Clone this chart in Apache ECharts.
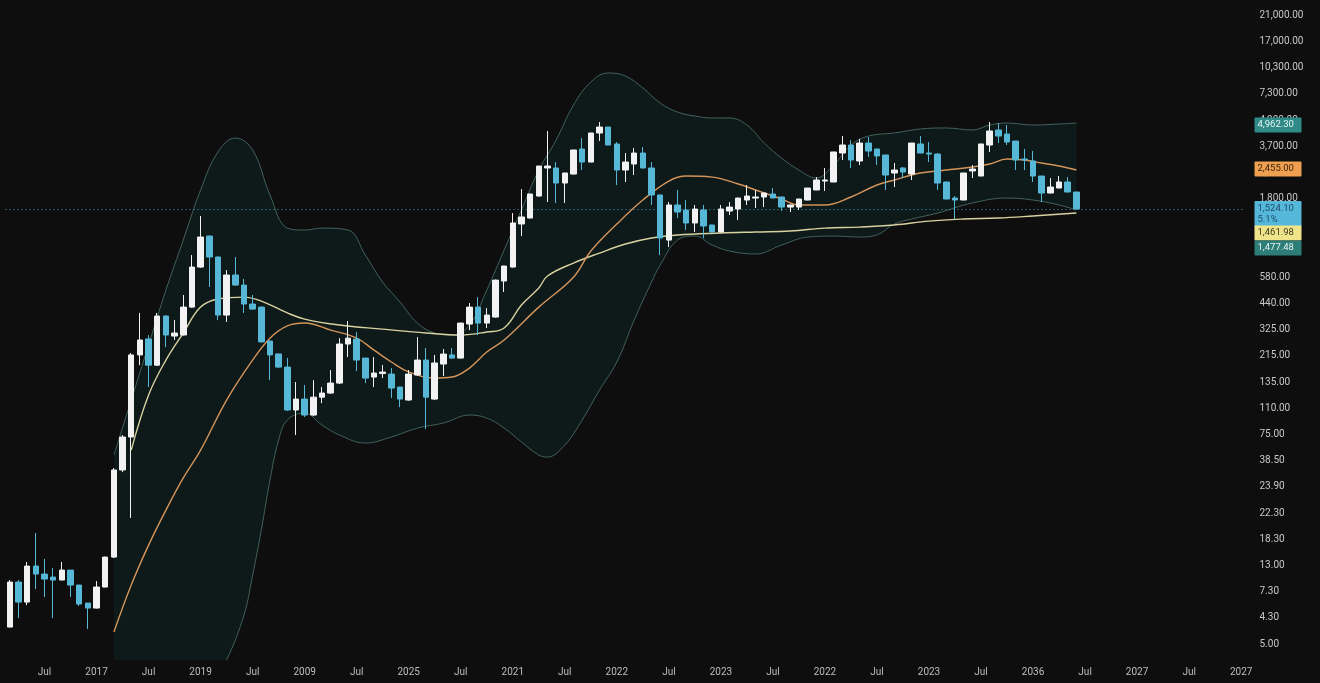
<!DOCTYPE html>
<html>
<head>
<meta charset="utf-8">
<title>Monthly candles</title>
<script src="https://cdn.jsdelivr.net/npm/echarts@6/dist/echarts.min.js"></script>
<style>
  html, body { margin: 0; padding: 0; background: #0e0e0e; }
  #chart { width: 1320px; height: 683px; }
</style>
</head>
<body>
<div id="chart"></div>
<script>
// monthly categories, Mar 2016 .. Jan 2028
const months = [];
for (let y = 2016, m = 3; months.length < 143; m++) {
  if (m > 12) { m = 1; y++; }
  months.push(y + '-' + String(m).padStart(2, '0'));
}

// x labels, one every 6 months starting Jul 2016 (text as printed)
const xTickLabels = ['Jul', '2017', 'Jul', '2019', 'Jul', '2009', 'Jul', '2025', 'Jul', '2021', 'Jul', '2022',
  'Jul', '2023', 'Jul', '2022', 'Jul', '2023', 'Jul', '2036', 'Jul', '2027', 'Jul', '2027'];

// y tick values (log scale, sqrt2 steps) and the text printed at them, bottom to top
const yTickValues = [5, 7.07, 10, 14.14, 20, 28.28, 40, 56.57, 80, 113.1, 160, 226.3, 320, 452.5, 640, 905,
  1280, 1810, 2560, 3620, 5120, 7241, 10240, 14482, 20480];
const yTickLabels = ['5.00', '4.30', '7.30', '13.00', '18.30', '22.30', '23.90', '38.50', '75.00', '110.00',
  '135.00', '215.00', '325.00', '440.00', '580.00', '900.00', '1,300.00', '1,800.00', '2,600.00', '3,700.00',
  '4,900.00', '7,300.00', '10,300.00', '17,000.00', '21,000.00'];

// [open, close, low, high]
const candles = [
  [6.26, 11.35, 6.26, 11.66], [11.35, 8.71, 7.05, 11.66], [8.71, 14.03, 8.37, 14.8], [14.03, 12.62, 10.35, 21.7],
  [12.62, 11.81, 9.31, 15.4], [12.13, 11.66, 7.05, 13.66], [11.66, 13.3, 11.66, 14.8], [13.3, 10.91, 9.31, 13.3],
  [10.91, 8.49, 8.27, 10.95], [8.6, 8.05, 6.1, 8.6], [8.05, 10.63, 8.0, 11.5], [10.63, 15.8, 10.6, 15.9],
  [15.8, 50, 15.6, 51.3], [50, 77.3, 48.6, 79.4], [77.3, 229, 26.5, 235], [229, 279, 200, 399],
  [283, 200, 150, 298], [200, 383, 198, 399], [383, 298, 254, 388], [294, 306, 279, 363],
  [298, 431, 296, 506], [431, 732, 428, 858], [732, 1089, 725, 1439], [1103, 836, 562, 1110],
  [836, 388, 363, 840], [388, 659, 354, 704], [659, 577, 570, 836], [577, 449, 399, 625],
  [449, 420, 415, 506], [431, 272, 270, 435], [275, 229, 164, 277], [232, 195, 193, 233],
  [195, 110.5, 109, 220], [110.5, 127.7, 79.4, 160], [127.7, 103.4, 100.7, 153.7], [103.4, 131, 102, 164],
  [131, 138.3, 121, 149.7], [138.3, 157.8, 137, 187.5], [157.8, 264.5, 156, 286], [264.5, 286, 222.7, 358.7],
  [282.6, 214, 185, 310], [219.7, 168.6, 157.8, 220], [170.9, 180.2, 149.7, 222.7], [179, 182.6, 168.6, 200.3],
  [177.8, 147.7, 129.4, 192.5], [149.7, 127.7, 114.9, 150], [126.1, 177.8, 125, 187.5], [175.5, 214, 174, 290],
  [214, 131, 85.9, 251], [127.7, 205.8, 126, 229], [203, 231.7, 173.1, 247.6], [229, 219.7, 218, 251],
  [219.7, 349, 218, 350], [344.6, 431, 318, 455], [431, 349, 298, 492], [349, 388, 326.7, 425.6],
  [378, 616, 375, 620], [608.6, 742, 526, 745], [732, 1311, 728, 1496], [1294, 1420, 1103, 2054],
  [1400, 1924, 1395, 1930], [1873, 2785, 1860, 2790], [2714, 2785, 1731, 4427], [2714, 2225, 1708, 2936],
  [2225, 2540, 1708, 2545], [2505, 3444, 2490, 3450], [3488, 2936, 2642, 4036], [2936, 4311, 2930, 4320],
  [4311, 4666, 3877, 4985], [4666, 3678, 3670, 4670], [3729, 2642, 2167, 3826], [2642, 2936, 2255, 3308],
  [2862, 3308, 2472, 3535], [3308, 2714, 2700, 3582], [2714, 1899, 1664, 2936], [1899, 1075, 858, 1905],
  [1046, 1664, 954, 1731], [1664, 1516, 1400, 2029], [1557, 1311, 1195, 1777], [1311, 1577, 1164, 1664],
  [1557, 1260, 1075, 1664], [1277, 1164, 1160, 1280], [1164, 1577, 1160, 1664], [1536, 1619, 1457, 1731],
  [1577, 1824, 1364, 1830], [1777, 1873, 1664, 2167], [1824, 1849, 1599, 2029], [1849, 1949, 1619, 1955],
  [1924, 1824, 1820, 2082], [1849, 1619, 1536, 1855], [1619, 1664, 1516, 1670], [1619, 1801, 1557, 1805],
  [1777, 2082, 1770, 2085], [2029, 2315, 2025, 2407], [2284, 2315, 2002, 2714], [2255, 3354, 2250, 3360],
  [3308, 3678, 3016, 4141], [3678, 3016, 2714, 3928], [2977, 3776, 2824, 3982], [3776, 3397, 3139, 4087],
  [3488, 3182, 2824, 3495], [3223, 2472, 2029, 3230], [2540, 2642, 2110, 2900], [2714, 2574, 2377, 2749],
  [2505, 3776, 2315, 3780], [3729, 3308, 3300, 4141], [3308, 3264, 2936, 3826], [3264, 2225, 2029, 3310],
  [2255, 1801, 1795, 2260], [1824, 1777, 1382, 1873], [1777, 2540, 1770, 2545], [2609, 2678, 2377, 2824],
  [2440, 3729, 2435, 3735], [3678, 4427, 3354, 4985], [4485, 4141, 3776, 4920], [4254, 3826, 3678, 4793],
  [3877, 3016, 2642, 3880], [3057, 3016, 2642, 3488], [2977, 2440, 2255, 3397], [2440, 1949, 1731, 2445],
  [1949, 2110, 1945, 2377], [2082, 2255, 2078, 2440], [2255, 1975, 1970, 2407], [1975, 1577, 1570, 1980]
];

// indicator lines: [month index, value]
const bandUpper = [[12, 60.9], [14, 126], [16, 261], [18, 540], [20, 1046], [22, 2029], [24, 3354], [26, 4036],
  [28, 3444], [30, 1899], [32, 1226], [34, 1195], [36, 1226], [39, 1195], [41, 858], [43, 600], [45, 461],
  [47, 349], [49, 306], [51, 298], [53, 340], [55, 540], [57, 917], [59, 1557], [61, 2642], [63, 3928],
  [65, 6241], [67, 8464], [69, 9535], [71, 9159], [73, 7819], [75, 6410], [77, 5688], [79, 5396], [81, 5258],
  [83, 5258], [85, 4793], [87, 3776], [89, 3098], [91, 2642], [93, 2377], [95, 2824], [97, 3678], [99, 4141],
  [102, 4311], [105, 4548], [108, 4608], [111, 4485], [113, 4793], [115, 4920], [118, 4793], [121, 4856],
  [123, 4920]];
const bandLower = [[12, 1.08], [16, 1.41], [20, 1.95], [23, 2.72], [25, 4.05], [27, 7.34], [28, 12.46],
  [29, 22.6], [30, 43.8], [31, 74.3], [32, 96.8], [34, 106.2], [36, 90.6], [38, 79.4], [41, 71.4], [44, 77.3],
  [47, 87], [50, 93], [53, 103.4], [55, 99.4], [57, 87], [59, 72.4], [61, 60.9], [62, 59.3], [64, 69.5],
  [66, 96.8], [68, 143.9], [70, 208.5], [72, 363], [74, 600], [75, 752], [77, 1046], [79, 1103], [81, 979],
  [83, 905], [86, 870], [89, 979], [92, 1089], [95, 1103], [98, 1089], [100, 1119], [102, 1294], [104, 1382],
  [107, 1496], [111, 1708], [115, 1824], [118, 1777], [121, 1664], [123, 1557]];
const slowLine = [[14, 65], [16, 134.7], [18, 214], [20, 306], [22, 431], [24, 480], [27, 492], [29, 467],
  [32, 399], [34, 368], [38, 340], [43, 322], [48, 306], [52, 298], [55, 310], [57, 327], [59, 443], [61, 555],
  [62, 650], [65, 772], [68, 881], [71, 993], [74, 1075], [77, 1119], [82, 1148], [86, 1164], [90, 1179],
  [94, 1226], [98, 1242], [102, 1277], [106, 1345], [110, 1382], [114, 1400], [118, 1439], [123, 1496]];
const fastLine = [[12, 5.86], [14, 10.91], [16, 18.5], [18, 29.4], [20, 45], [22, 65], [25, 126.1], [28, 214],
  [30, 286], [32, 336], [34, 349], [37, 318], [40, 286], [42, 244], [44, 208.5], [46, 183], [49, 168.6],
  [51, 170.9], [53, 192.5], [55, 238], [57, 279], [61, 431], [65, 640], [67, 905], [70, 1294], [73, 1777],
  [76, 2284], [78, 2440], [81, 2407], [84, 2196], [86, 2029], [89, 1801], [91, 1664], [94, 1664], [97, 1849],
  [100, 2167], [102, 2315], [105, 2540], [108, 2642], [111, 2749], [113, 2862], [115, 3057], [117, 3016],
  [119, 2900], [121, 2785], [123, 2642]];

// price tags on the right: level and printed text
const tagLevels = [4793, 2678, 1148, 941];
const tagTexts = ['4,962.30', '2,455.00', '1,461.98', '1,477.48'];
const lastTag = '1,524.10\n5.1%';

const BG = '#0e0e0e';
const tagStyles = [
  { bg: '#2f8a88', fg: '#e6f4f2' },
  { bg: '#eea050', fg: '#3b2308' },
  { bg: '#efe48a', fg: '#3a3a20' },
  { bg: '#2d7d78', fg: '#e6f4f2' }
];

const tagLabel = (text, st) => ({
  show: true, position: 'end', distance: 9, formatter: text,
  backgroundColor: st.bg, color: st.fg, fontSize: 9.5, fontFamily: 'Roboto',
  padding: [2, 3], width: 41, lineHeight: 11, borderRadius: 1
});

const markData = [{
  yAxis: candles[candles.length - 1][1],
  lineStyle: { color: '#3f9bb6', type: [1, 3], width: 1 },
  label: Object.assign(tagLabel(lastTag, { bg: '#55b8da', fg: '#1e4d68' }), { offset: [0, 5] })
}].concat(tagLevels.map((v, i) => ({
  yAxis: v,
  lineStyle: { color: 'rgba(0,0,0,0)', width: 0 },
  label: tagLabel(tagTexts[i], tagStyles[i])
})));

const chart = echarts.init(document.getElementById('chart'));
chart.setOption({
  backgroundColor: BG,
  animation: false,
  grid: { left: 5.5, right: 74.5, top: 0, bottom: 23 },
  xAxis: {
    type: 'category',
    data: months,
    boundaryGap: true,
    axisLine: { show: false },
    axisTick: { show: false },
    splitLine: { show: false },
    axisLabel: {
      interval: (i) => i >= 4 && (i - 4) % 6 === 0,
      formatter: (v, i) => xTickLabels[(i - 4) / 6] || '',
      color: '#bdbdbd', fontSize: 10, fontFamily: 'Roboto', margin: 7
    }
  },
  yAxis: {
    type: 'log',
    logBase: 2,
    min: 4.05,
    max: 25040,
    position: 'right',
    axisLine: { show: false },
    axisTick: { show: false },
    splitLine: { show: false },
    axisLabel: {
      customValues: yTickValues,
      formatter: (v) => {
        const k = yTickValues.findIndex(t => Math.abs(t - v) / t < 0.002);
        return k >= 0 ? yTickLabels[k] : '';
      },
      color: '#c8c8c8', fontSize: 10, fontFamily: 'Roboto', margin: 14
    }
  },
  series: [
    {
      name: 'upper', type: 'line', data: bandUpper, smooth: 0.4, showSymbol: false,
      lineStyle: { color: '#41615c', width: 1 },
      areaStyle: { color: '#0e1a19', opacity: 1, origin: 'start' }, z: 1
    },
    {
      name: 'lower', type: 'line', data: bandLower, smooth: 0.4, showSymbol: false,
      lineStyle: { color: '#41615c', width: 1 },
      areaStyle: { color: BG, opacity: 1, origin: 'start' }, z: 1
    },
    {
      name: 'slow', type: 'line', data: slowLine, smooth: 0.4, showSymbol: false,
      lineStyle: { color: '#d8d1a0', width: 1.4 }, z: 3
    },
    {
      name: 'fast', type: 'line', data: fastLine, smooth: 0.4, showSymbol: false,
      lineStyle: { color: '#d4945a', width: 1.4 }, z: 3
    },
    {
      name: 'price', type: 'candlestick', data: candles, barWidth: 6, z: 5,
      itemStyle: {
        color: '#f2f2f2', color0: '#56b7d6',
        borderColor: '#f2f2f2', borderColor0: '#56b7d6', borderWidth: 1
      },
      markLine: { symbol: ['none', 'none'], silent: true, animation: false, data: markData }
    }
  ]
});
</script>
</body>
</html>
